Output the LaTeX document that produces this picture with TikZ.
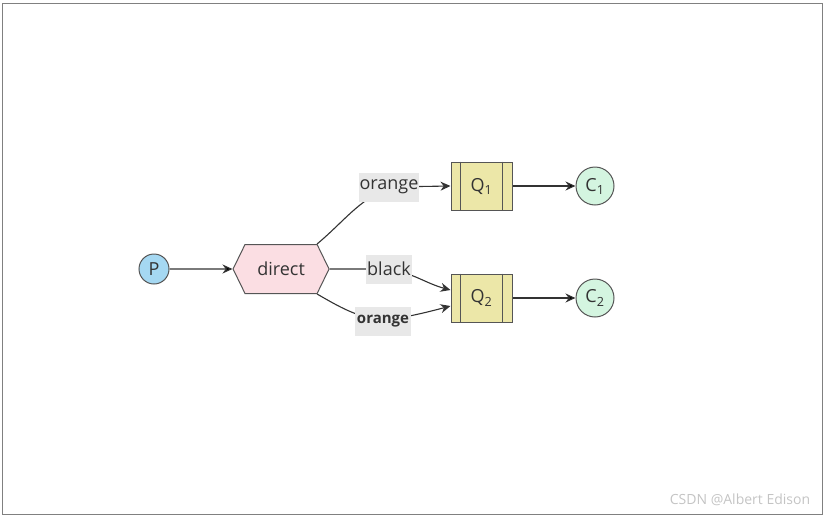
\documentclass[tikz,border=0pt]{standalone}
\usepackage{fontspec}
\setmainfont{Open Sans}
\usetikzlibrary{positioning,calc}
\usetikzlibrary{arrows.meta,shapes.symbols,backgrounds}

\definecolor{txtgray}{HTML}{333333}
\definecolor{linegray}{HTML}{555555}
\definecolor{pfill}{HTML}{A5D8F2}
\definecolor{exfill}{HTML}{FBDEE3}
\definecolor{qfill}{HTML}{ECE7A8}
\definecolor{cfill}{HTML}{D4F5E0}
\definecolor{keygray}{HTML}{E8E8E8}
\definecolor{wmgray}{HTML}{C4C4C4}

\begin{document}
\begin{tikzpicture}[x = 1pt, y = 1pt, > = {Stealth[length = 10pt, width = 9pt]}, node distance = 63pt, line width = 1pt, font = \fontsize{18}{21}\selectfont]
\tikzstyle{every node}=[text = txtgray]
\tikzstyle{producer}=[
  circle,
  draw = linegray,
  fill = pfill,
  minimum size = 30pt,
  inner sep = 0pt
]
\tikzstyle{exchange}=[
  signal,
  signal to = west and east,
  signal pointer angle = 128,
  draw = linegray,
  fill = exfill,
  minimum width = 96pt,
  minimum height = 49pt,
  inner sep = 0pt
]
\tikzstyle{queue}=[
  rectangle,
  draw = linegray,
  fill = qfill,
  minimum width = 61pt,
  minimum height = 48pt,
  inner sep = 0pt
]
\tikzstyle{client}=[
  circle,
  draw = linegray,
  fill = cfill,
  minimum size = 38pt,
  inner sep = 0pt
]
\tikzstyle{bindlabel}=[
  fill = keygray,
  inner xsep = 1pt,
  minimum height = 29pt
]
\tikzstyle{link}=[
  ->,
  draw = txtgray,
  line width = 1.1pt
]

\useasboundingbox (0,0) rectangle (825,-517);

\node[producer] (P) at (154,-269) {P};
\node[exchange] (D) [right = 63pt of P] {direct};
\node[queue] (Q1) at (481.5,-186) {Q\textsubscript{1}};
\node[queue] (Q2) [below = 63pt of Q1] {Q\textsubscript{2}};
\node[client] (C1) [right = 63pt of Q1] {C\textsubscript{1}};
\node[client] (C2) [right = 63pt of Q2] {C\textsubscript{2}};

\node[bindlabel] (O1) at (389,-187) {orange};
\node[bindlabel] (B) at (389,-269) {black};
\node[bindlabel, font = \fontsize{15}{18}\selectfont, inner xsep = 2pt] (O2) at (383,-321) {\textbf{orange}};

% queue walls
\foreach \q in {Q1,Q2} {
  \draw[linegray] ($(\q.north west)+(10,0)$) -- ($(\q.south west)+(10,0)$);
  \draw[linegray] ($(\q.north east)+(-10,0)$) -- ($(\q.south east)+(-10,0)$);
}

\node[text = wmgray, font = \fontsize{14}{16}\selectfont] (WM) at (740,-500) {CSDN @Albert Edison};

\begin{scope}[on background layer]
\draw[line width = 0.8pt, draw = gray] (2,-3) rectangle (822,-514);
\path[link] (P) edge (D);
\draw[link] ($(D.north)+(36,0)$) to[out = 40, in = 205] (O1.center) -- (Q1.west);
\draw[link] (D.east) -- (B.center) to[out = -10, in = 165] ($(Q2.west)+(0,8)$);
\draw[link] ($(D.south)+(36,0)$) to[out = -30, in = 170] (O2.center) to[out = 10, in = 195] ($(Q2.west)+(0,-8)$);
\path[link] (Q1) edge (C1);
\path[link] (Q2) edge (C2);
\end{scope}
\end{tikzpicture}
\end{document}
